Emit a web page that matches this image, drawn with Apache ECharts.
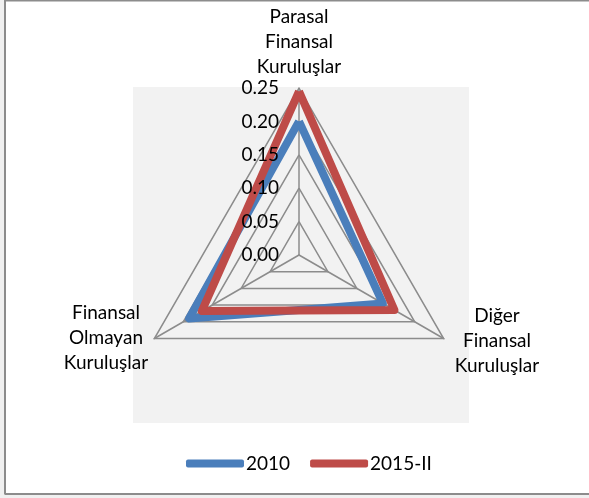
<!DOCTYPE html>
<html>
<head>
<meta charset="utf-8">
<script src="https://cdn.jsdelivr.net/npm/echarts@6/dist/echarts.min.js"></script>
<style>html,body{margin:0;padding:0;background:#fff;}#c{width:589px;height:498px;}</style>
</head>
<body>
<div id="c"></div>
<script>
var indicators = ['Parasal\nFinansal\nKuruluşlar', 'Finansal\nOlmayan\nKuruluşlar', 'Diğer\nFinansal\nKuruluşlar'];
var seriesNames = ['2010', '2015-II'];
var values2010 = [0.20, 0.19, 0.145];
var values2015 = [0.245, 0.168, 0.165];
var tickMin = 0, tickMax = 0.25, tickStep = 0.05;

var FONT = 'Lato';
var chart = echarts.init(document.getElementById('c'), null, {renderer: 'canvas'});
var cx = 299, cy = 255, R = 167;

function baseRadar(withLabels) {
  return {
    center: [cx, cy],
    radius: R,
    shape: 'polygon',
    startAngle: 90,
    splitNumber: Math.round((tickMax - tickMin) / tickStep),
    z: withLabels ? 10 : 0,
    axisName: {show: false},
    splitArea: {show: false},
    splitLine: {show: !withLabels, lineStyle: {color: '#8c8c8c', width: 1.5}},
    axisLine: {show: !withLabels, lineStyle: {color: '#8c8c8c', width: 1.5}},
    axisTick: {show: false},
    indicator: indicators.map(function (n, i) {
      var o = {name: n, min: tickMin, max: tickMax};
      if (withLabels && i === 0) {
        o.axisLabel = {show: true, showMinLabel: true, color: '#000', fontSize: 19, fontFamily: FONT, margin: 20,
          formatter: function (v) { return (+v).toFixed(2); }};
      }
      return o;
    })
  };
}

var option = {
  animation: false,
  backgroundColor: '#ffffff',
  textStyle: {fontFamily: FONT},
  graphic: [
    {type: 'rect', z: -10, shape: {x: 0, y: 0, width: 5, height: 498}, style: {fill: '#f0f0f0'}},
    {type: 'rect', z: -10, shape: {x: 0, y: 495, width: 589, height: 3}, style: {fill: '#f0f0f0'}},
    {type: 'polyline', z: -5, shape: {points: [[5, 494.5], [5, 0.5], [589, 0.5]]}, style: {stroke: '#8c8c8c', lineWidth: 2, fill: null}},
    {type: 'line', z: -5, shape: {x1: 5, y1: 494, x2: 589, y2: 494}, style: {stroke: '#8c8c8c', lineWidth: 2}},
    {type: 'rect', z: -8, shape: {x: 133, y: 87, width: 336, height: 336}, style: {fill: '#f2f2f2'}},
    {type: 'text', style: {text: indicators[0], x: 299, y: 4, font: '19px ' + FONT, fill: '#000', align: 'center', verticalAlign: 'top', lineHeight: 25}},
    {type: 'text', style: {text: indicators[1], x: 106, y: 300, font: '19px ' + FONT, fill: '#000', align: 'center', verticalAlign: 'top', lineHeight: 25}},
    {type: 'text', style: {text: indicators[2], x: 497, y: 303, font: '19px ' + FONT, fill: '#000', align: 'center', verticalAlign: 'top', lineHeight: 25}}
  ],
  legend: {
    data: seriesNames,
    left: 181,
    top: 449,
    itemWidth: 58,
    itemHeight: 8,
    itemGap: 20,
    icon: 'roundRect',
    textStyle: {fontFamily: FONT, fontSize: 19, color: '#000', padding: [0, 0, 0, -3]}
  },
  radar: [baseRadar(false), baseRadar(true)],
  series: [{
    type: 'radar',
    radarIndex: 0,
    symbol: 'none',
    z: 2,
    data: [
      {name: seriesNames[0], value: values2010, lineStyle: {color: '#4a7ebb', width: 8, join: 'round'}, itemStyle: {color: '#4a7ebb'}},
      {name: seriesNames[1], value: values2015, lineStyle: {color: '#be4b48', width: 8, join: 'round'}, itemStyle: {color: '#be4b48'}}
    ]
  }]
};
chart.setOption(option);
</script>
</body>
</html>
